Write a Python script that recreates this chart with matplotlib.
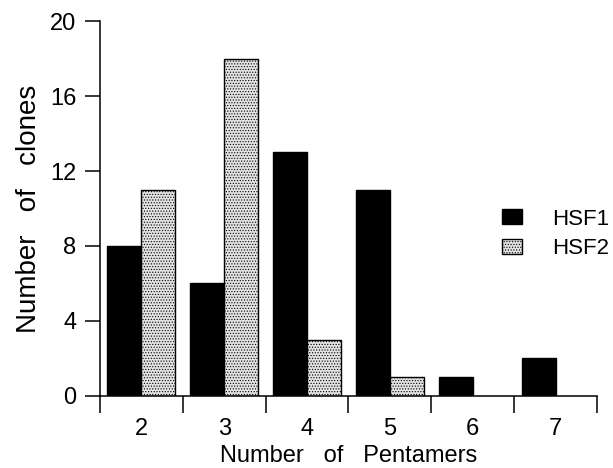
import matplotlib
matplotlib.use("Agg")
import matplotlib.pyplot as plt
import numpy as np

pentamers = [2, 3, 4, 5, 6, 7]
hsf1 = [8, 6, 13, 11, 1, 2]
hsf2 = [11, 18, 3, 1, 0, 0]
y_ticks = [0, 4, 8, 12, 16, 20]

plt.rcParams['font.family'] = ['Liberation Sans', 'DejaVu Sans']
plt.rcParams['hatch.color'] = '#9a9a9a'
plt.rcParams['hatch.linewidth'] = 0.5

fig = plt.figure(figsize=(6.13, 4.68), dpi=100)
ax = fig.add_axes([0.163, 0.154, 0.811, 0.801])

x = np.array(pentamers)
w = 0.41
ax.bar(x - w / 2, hsf1, width=w, color='black', edgecolor='black', linewidth=1, label='HSF1')
h2 = [v if v > 0 else np.nan for v in hsf2]
ax.bar(x + w / 2, h2, width=w, color='#e2e2e2', edgecolor='black', linewidth=1,
       hatch='......', label='HSF2')

ax.set_xlim(1.5, 7.5)
ax.set_ylim(0, 20)
ax.spines['top'].set_visible(False)
ax.spines['right'].set_visible(False)
for s in ['left', 'bottom']:
    ax.spines[s].set_linewidth(1.1)

# tick marks sit between the groups, labels sit under the group centres
ax.set_xticks(np.arange(1.5, 8.0, 1.0))
ax.set_xticklabels([])
ax.set_xticks(x, minor=True)
ax.set_xticklabels([str(p) for p in pentamers], minor=True, fontsize=17)
ax.tick_params(axis='x', which='major', direction='out', length=12, width=1.1)
ax.tick_params(axis='x', which='minor', length=0, pad=16)

ax.set_yticks(y_ticks)
ax.set_yticklabels([str(t) for t in y_ticks], fontsize=17)
ax.tick_params(axis='y', direction='out', length=11, width=1.1, pad=6)

ax.set_xlabel('Number   of   Pentamers', fontsize=17, labelpad=3.5)
ax.set_ylabel('Number   of   clones', fontsize=20, labelpad=6)

ax.legend(loc='center left', bbox_to_anchor=(502 / 613, 1 - 234 / 468),
          bbox_transform=fig.transFigure, frameon=False, borderpad=0,
          borderaxespad=0, fontsize=16, handlelength=0.9, handleheight=0.63,
          handletextpad=1.35, labelspacing=0.4)

fig.savefig('out.png', dpi=100)
